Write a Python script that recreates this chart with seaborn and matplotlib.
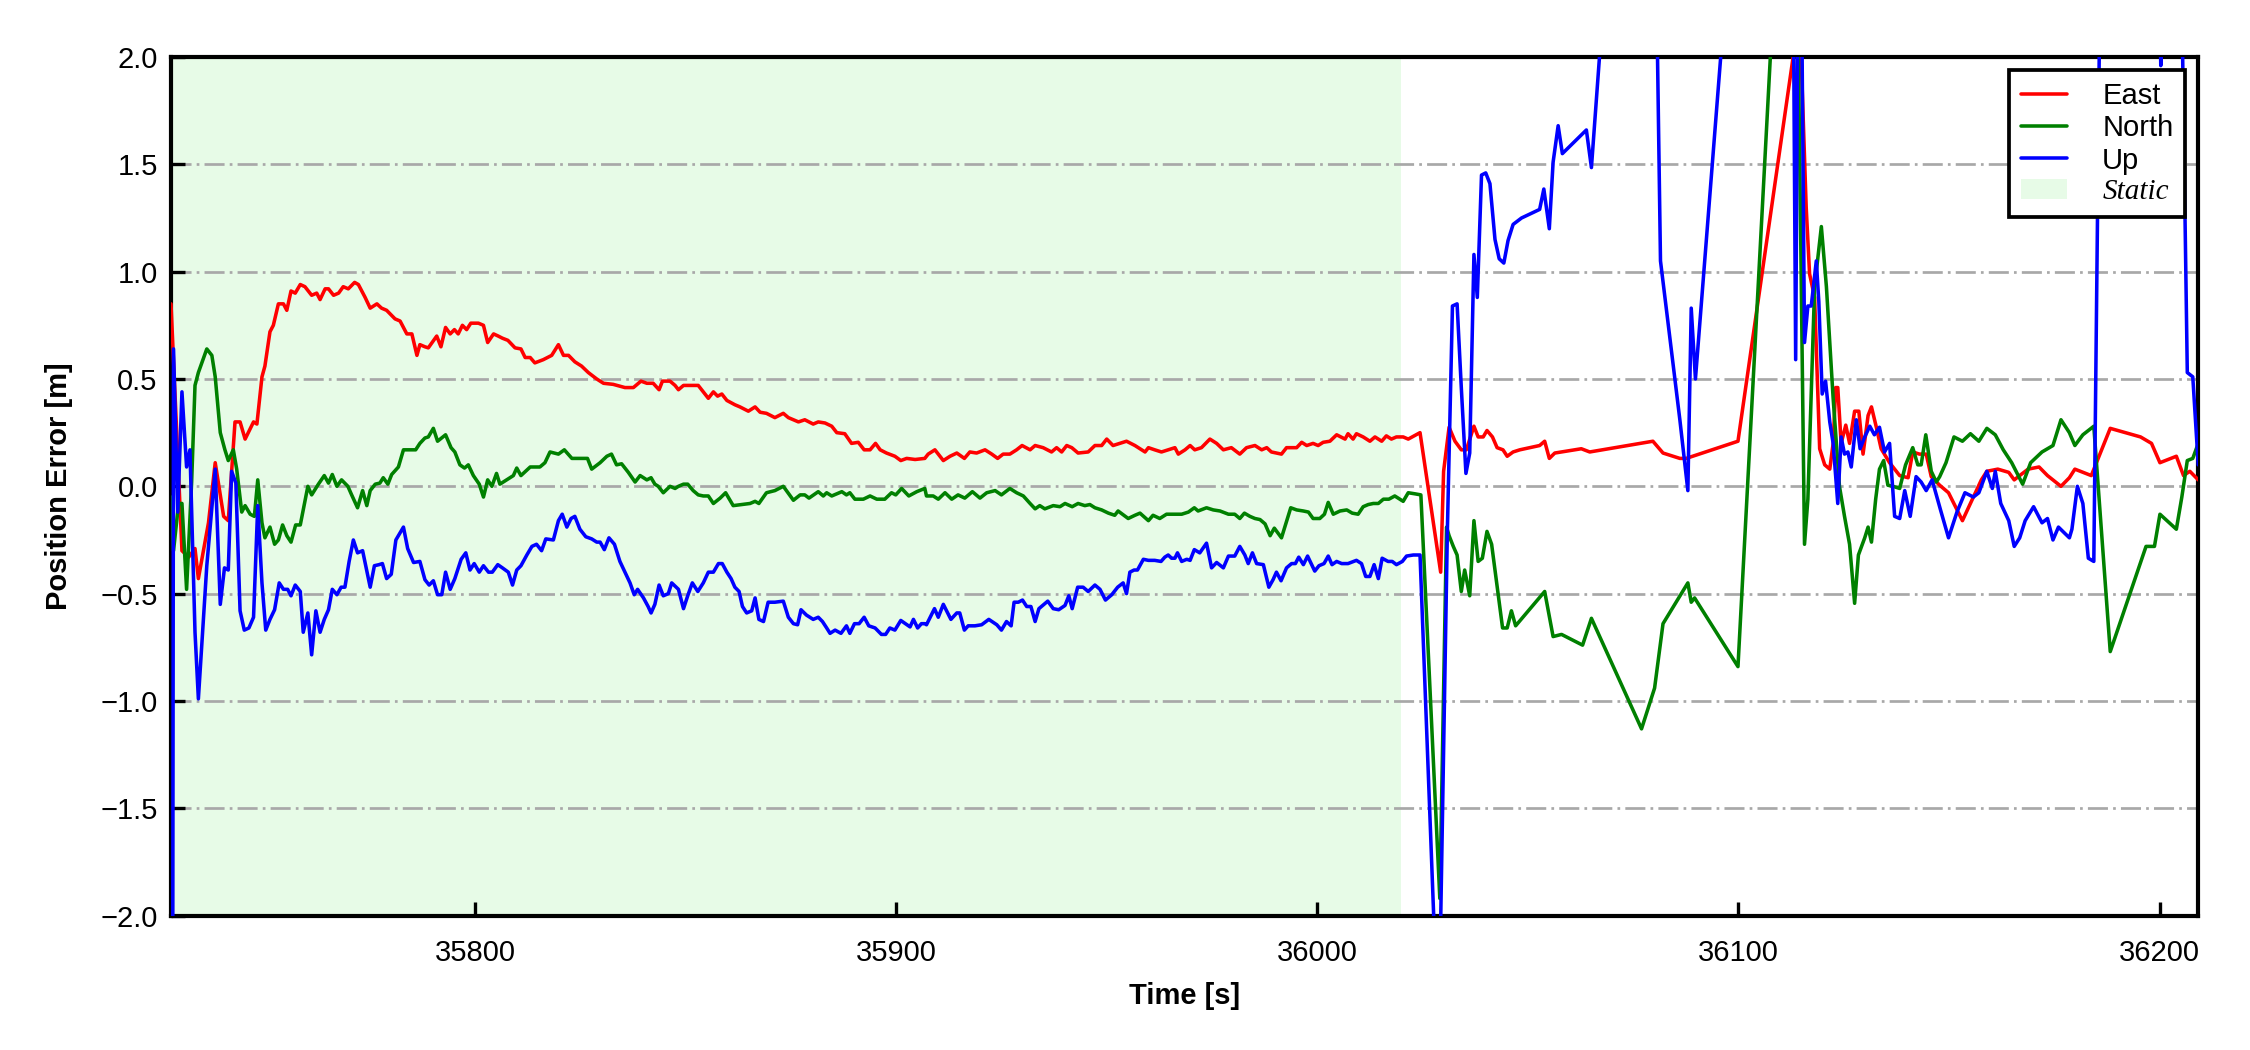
import numpy as np
import seaborn as sns
import matplotlib.pyplot as plt
from matplotlib.patches import Patch

# time window and static period [s]
x_min, x_max = 35727.8, 36209.2
static_end = 36020.0
y_ticks = [-2.0, -1.5, -1.0, -0.5, 0.0, 0.5, 1.0, 1.5, 2.0]

# East error [m]
t_east = [
    35727.8, 35730.4, 35732.0, 35733.5, 35734.3, 35736.7, 35738.3, 35740.3, 35741.4, 35743.0,
    35744.2, 35745.4, 35747.4, 35748.2, 35749.4, 35750.1, 35751.3, 35752.1, 35753.3, 35754.5,
    35755.3, 35756.3, 35757.3, 35758.5, 35759.6, 35761.2, 35762.4, 35763.2, 35764.4, 35765.2,
    35766.4, 35767.6, 35768.7, 35769.9, 35771.4, 35772.3, 35773.9, 35775.1, 35776.7, 35777.8,
    35779.0, 35781.0, 35782.2, 35783.8, 35785.0, 35786.2, 35786.9, 35788.1,
    35788.9, 35790.9, 35791.9, 35793.0, 35794.1, 35795.1, 35796.0, 35797.0, 35798.0, 35799.0,
    35800.8, 35802.0, 35803.0, 35804.4, 35805.5, 35806.5, 35807.8, 35809.5, 35810.9, 35811.9,
    35813.1, 35814.2, 35816.2, 35818.2, 35819.8, 35821.0, 35822.2, 35823.7, 35825.3, 35826.9,
    35828.9, 35830.5, 35832.8, 35835.6, 35837.6, 35839.4, 35840.8, 35842.3, 35843.7, 35844.5,
    35846.3, 35847.5,
    35848.3, 35849.5, 35851.4, 35853.0, 35854.2, 35855.4, 35856.6, 35857.6, 35858.6, 35859.8,
    35861.7, 35862.9, 35864.9, 35866.5, 35867.7, 35869.2, 35871.2, 35873.2, 35874.4, 35876.8,
    35878.3, 35880.3, 35881.5, 35883.1, 35884.7, 35885.9, 35887.8, 35889.4, 35891.0, 35892.4,
    35893.8, 35895.1, 35896.2, 35897.7, 35899.7, 35901.1, 35902.5, 35904.5, 35906.8,
    35907.6, 35909.2, 35911.2, 35912.8, 35914.4, 35916.2, 35917.5, 35919.1, 35921.1, 35922.7,
    35924.1, 35925.4, 35927.0, 35928.6, 35929.9, 35931.8, 35933.0, 35934.9, 35936.9, 35938.1,
    35939.3, 35940.5, 35941.7, 35943.2, 35945.6, 35947.2, 35948.8, 35950.0, 35951.5, 35953.1,
    35954.7, 35956.7, 35959.1, 35959.9, 35961.4, 35963.0, 35964.6, 35966.2,
    35967.0, 35968.6, 35969.8, 35970.9, 35972.5, 35974.5, 35976.1, 35977.7, 35979.6, 35981.6,
    35983.2, 35985.2, 35986.8, 35988.0, 35989.1, 35991.5, 35992.7, 35995.1, 35996.3, 35997.5,
    35999.0, 36000.2, 36001.4, 36003.0, 36004.6, 36006.6, 36007.3, 36008.5, 36009.3, 36010.9,
    36012.5, 36013.7, 36015.3, 36016.4, 36017.6, 36018.8, 36020.4, 36021.6, 36024.4,
    36029.3, 36030.0, 36031.3, 36032.7, 36034.2, 36035.4, 36037.2, 36038.2, 36039.4, 36040.3,
    36041.6, 36042.7, 36044.1, 36045.1, 36046.5, 36048.1, 36052.8, 36054.0, 36055.1, 36056.4,
    36062.7, 36064.7, 36079.7, 36082.1, 36086.1, 36087.6, 36099.9, 36113.0, 36114.0, 36114.9,
    36116.1, 36116.9, 36118.1, 36119.3, 36120.5, 36121.7, 36122.5, 36123.1, 36123.6, 36124.4,
    36125.5, 36126.4, 36127.6, 36128.6, 36129.6, 36130.8, 36131.6, 36132.7, 36133.9, 36135.9,
    36138.3, 36140.3, 36141.4, 36143.0, 36144.6, 36145.8, 36147.8,
    36149.9, 36153.2, 36155.1, 36157.7, 36159.0, 36161.6, 36164.2, 36165.5, 36166.8, 36168.8,
    36171.4, 36173.4, 36176.6, 36178.6, 36179.9, 36183.8, 36188.3, 36195.5, 36198.1, 36200.1,
    36204.0, 36205.7, 36207.2, 36209.2,
]
east = [
    0.85, -0.30, -0.33, -0.29, -0.43, -0.17, 0.11, -0.14, -0.16, 0.30,
    0.30, 0.22, 0.30, 0.29, 0.51, 0.56, 0.72, 0.75, 0.85, 0.85,
    0.82, 0.91, 0.90, 0.94, 0.93, 0.89, 0.90, 0.87, 0.92, 0.92,
    0.89, 0.90, 0.93, 0.92, 0.95, 0.94, 0.88, 0.83, 0.85, 0.83,
    0.82, 0.78, 0.77, 0.71, 0.71, 0.61, 0.66, 0.65,
    0.645, 0.70, 0.65, 0.74, 0.71, 0.73, 0.71, 0.75, 0.73, 0.76,
    0.76, 0.75, 0.67, 0.71, 0.70, 0.69, 0.68, 0.645, 0.64, 0.60,
    0.60, 0.575, 0.59, 0.61, 0.66, 0.61, 0.61, 0.58, 0.56, 0.53,
    0.50, 0.48, 0.475, 0.46, 0.46, 0.49, 0.48, 0.48, 0.45, 0.49,
    0.49, 0.47,
    0.45, 0.47, 0.47, 0.47, 0.44, 0.41, 0.44, 0.42, 0.43, 0.40,
    0.38, 0.37, 0.35, 0.37, 0.345, 0.34, 0.32, 0.34, 0.32, 0.30,
    0.31, 0.29, 0.30, 0.295, 0.28, 0.25, 0.245, 0.20, 0.205, 0.17,
    0.17, 0.20, 0.17, 0.155, 0.14, 0.12, 0.13, 0.125, 0.13,
    0.15, 0.17, 0.12, 0.14, 0.155, 0.13, 0.16, 0.155, 0.17, 0.15,
    0.13, 0.15, 0.15, 0.17, 0.19, 0.17, 0.19, 0.18, 0.16, 0.18,
    0.16, 0.19, 0.18, 0.155, 0.16, 0.19, 0.19, 0.22, 0.19, 0.20,
    0.21, 0.19, 0.16, 0.18, 0.17, 0.16, 0.17, 0.18,
    0.15, 0.17, 0.19, 0.17, 0.18, 0.22, 0.20, 0.17, 0.18, 0.15,
    0.18, 0.19, 0.17, 0.18, 0.16, 0.15, 0.18, 0.18, 0.205, 0.19,
    0.20, 0.19, 0.205, 0.21, 0.24, 0.22, 0.245, 0.22, 0.245, 0.23,
    0.21, 0.23, 0.21, 0.235, 0.22, 0.23, 0.23, 0.22, 0.25,
    -0.40, 0.07, 0.275, 0.21, 0.17, 0.17, 0.28, 0.23, 0.23, 0.26,
    0.23, 0.18, 0.17, 0.14, 0.16, 0.17, 0.19, 0.21, 0.13, 0.155,
    0.175, 0.16, 0.21, 0.155, 0.13, 0.13, 0.21, 2.0, 2.2, 2.0,
    1.30, 0.99, 0.88, 0.175, 0.10, 0.08, 0.20, 0.46, 0.46, 0.20,
    0.285, 0.20, 0.35, 0.35, 0.15, 0.33, 0.37, 0.28, 0.175, 0.11,
    0.05, 0.04, 0.16, 0.15, 0.15, 0.045, 0.005,
    -0.03, -0.16, -0.08, 0.03, 0.07, 0.08, 0.065, 0.03, 0.05, 0.08,
    0.09, 0.05, 0.00, 0.04, 0.08, 0.05, 0.27, 0.23, 0.20, 0.11,
    0.14, 0.05, 0.07, 0.03,
]

# North error [m]
t_north = [
    35727.8, 35728.4, 35729.6, 35730.4, 35731.5, 35732.7, 35733.5, 35734.3, 35736.3, 35737.5,
    35738.3, 35739.5, 35740.6, 35741.4, 35742.6, 35743.4, 35744.6, 35745.4, 35746.6, 35747.6,
    35748.4, 35749.4, 35750.1, 35751.3, 35752.4, 35753.3, 35754.3, 35755.3, 35756.3, 35757.4,
    35758.5, 35759.2, 35760.3, 35761.2, 35762.8, 35764.2, 35765.2, 35766.1, 35767.2, 35768.3,
    35769.8, 35770.7, 35772.1, 35773.3, 35774.3, 35775.1, 35776.3, 35777.4, 35778.2, 35779.3,
    35780.2, 35781.8, 35783.0, 35784.6, 35785.9, 35786.9, 35788.1,
    35788.9, 35790.1, 35791.1, 35793.0, 35794.3, 35795.2, 35796.4, 35797.5, 35798.4, 35799.6,
    35801.0, 35802.0, 35803.0, 35804.0, 35805.1, 35805.9, 35807.5, 35809.1, 35809.9, 35810.9,
    35813.1, 35815.4, 35816.6, 35817.8, 35819.8, 35821.2, 35823.0, 35824.5, 35826.7, 35827.7,
    35829.7, 35831.3, 35832.4, 35833.6, 35834.8, 35836.4, 35838.0, 35839.2, 35840.8, 35841.8,
    35842.7, 35843.5, 35844.7, 35846.3, 35847.5,
    35848.3, 35849.5, 35850.5, 35851.8, 35853.0, 35854.2, 35855.4, 35856.6, 35858.2, 35859.5,
    35861.3, 35863.3, 35865.3, 35866.5, 35867.4, 35869.2, 35871.2, 35873.2, 35875.6, 35877.2,
    35878.3, 35879.3, 35881.5, 35882.7, 35883.5, 35884.7, 35887.1, 35888.2, 35889.0, 35890.2,
    35892.2, 35893.8, 35895.4, 35897.3, 35898.9, 35899.9, 35901.3, 35903.0, 35904.9, 35906.8,
    35907.2, 35908.8, 35910.0, 35911.6, 35913.2, 35914.7, 35916.3, 35918.1, 35919.9, 35921.5,
    35923.5, 35925.0, 35927.0, 35928.6, 35930.2, 35931.8, 35933.0, 35934.1, 35935.3, 35937.3,
    35938.9, 35940.1, 35941.8, 35943.2, 35944.8, 35946.0, 35947.2, 35948.8, 35950.4, 35951.9,
    35952.7, 35955.1, 35956.7, 35957.9, 35959.9, 35961.0, 35962.6, 35964.2, 35966.2,
    35967.8, 35969.4, 35970.8, 35971.7, 35973.7, 35975.3, 35976.9, 35978.9, 35980.4, 35981.6,
    35982.7, 35984.0, 35985.2, 35986.4, 35987.6, 35988.8, 35989.8, 35991.5, 35993.7, 35995.1,
    35996.7, 35997.9, 35999.0, 36000.6, 36001.7, 36002.6, 36003.8, 36005.4, 36007.0, 36008.3,
    36009.7, 36010.9, 36012.1, 36013.3, 36014.5, 36015.7, 36017.0, 36018.4, 36019.2, 36020.4,
    36021.6, 36023.2, 36024.6,
    36029.1, 36030.7, 36031.3, 36032.3, 36033.2, 36034.2, 36035.0, 36036.2, 36037.2, 36038.2,
    36039.2, 36040.3, 36041.4, 36042.6, 36044.0, 36045.1, 36046.1, 36047.1, 36054.0, 36056.0,
    36058.0, 36063.0, 36065.1, 36077.0, 36080.1, 36082.1, 36088.0, 36088.8, 36089.6, 36099.9,
    36113.0, 36115.7, 36116.5, 36118.1, 36119.7, 36120.9, 36122.5, 36124.0, 36125.2, 36126.4,
    36127.6, 36128.5, 36130.0, 36130.8, 36131.6, 36132.6, 36133.5, 36134.5, 36135.5, 36136.7,
    36138.3, 36139.7, 36141.4, 36142.6, 36143.4, 36144.5, 36145.8, 36147.0, 36147.8,
    36149.3, 36151.2, 36153.2, 36155.1, 36157.1, 36159.0, 36161.0, 36162.9, 36164.9, 36167.5,
    36169.4, 36172.1, 36174.7, 36176.6, 36178.6, 36179.9, 36181.8, 36184.4, 36188.3, 36196.8,
    36198.8, 36200.1, 36204.0, 36205.3, 36206.6, 36207.9, 36209.2,
]
north = [
    -0.05, -0.30, -0.08, -0.08, -0.48, 0.02, 0.47, 0.53, 0.64, 0.61,
    0.51, 0.25, 0.17, 0.12, 0.17, 0.08, -0.12, -0.09, -0.13, -0.14,
    0.03, -0.17, -0.24, -0.19, -0.27, -0.25, -0.18, -0.23, -0.26, -0.18,
    -0.18, -0.11, 0.0, -0.04, 0.01, 0.05, 0.015, 0.055, 0.0, 0.03,
    0.0, -0.04, -0.10, -0.02, -0.09, -0.02, 0.01, 0.015, 0.04, 0.01,
    0.055, 0.09, 0.17, 0.17, 0.17, 0.20, 0.225,
    0.23, 0.27, 0.21, 0.24, 0.18, 0.16, 0.10, 0.085, 0.10, 0.05,
    0.01, -0.05, 0.03, 0.0, 0.06, 0.01, 0.03, 0.05, 0.085, 0.05,
    0.09, 0.09, 0.11, 0.16, 0.15, 0.17, 0.13, 0.13, 0.13, 0.08,
    0.11, 0.14, 0.15, 0.10, 0.105, 0.065, 0.02, 0.05, 0.03, 0.04,
    0.01, 0.0, -0.03, 0.0, -0.01,
    0.0, 0.01, 0.01, -0.02, -0.04, -0.045, -0.045, -0.08, -0.055, -0.03,
    -0.09, -0.085, -0.08, -0.07, -0.08, -0.03, -0.02, 0.0, -0.065, -0.04,
    -0.04, -0.055, -0.025, -0.045, -0.03, -0.045, -0.025, -0.04, -0.03, -0.06,
    -0.06, -0.045, -0.06, -0.06, -0.03, -0.04, -0.01, -0.045, -0.025, -0.01,
    -0.045, -0.045, -0.06, -0.03, -0.06, -0.04, -0.055, -0.025, -0.055, -0.03,
    -0.02, -0.04, -0.01, -0.03, -0.045, -0.08, -0.105, -0.09, -0.105, -0.09,
    -0.095, -0.08, -0.095, -0.08, -0.09, -0.085, -0.10, -0.11, -0.125, -0.135,
    -0.115, -0.15, -0.135, -0.125, -0.16, -0.135, -0.15, -0.13, -0.13,
    -0.13, -0.12, -0.10, -0.115, -0.10, -0.11, -0.115, -0.13, -0.13, -0.15,
    -0.125, -0.14, -0.15, -0.155, -0.175, -0.23, -0.195, -0.24, -0.10, -0.11,
    -0.115, -0.12, -0.15, -0.15, -0.13, -0.075, -0.13, -0.115, -0.11, -0.125,
    -0.13, -0.095, -0.085, -0.08, -0.08, -0.06, -0.06, -0.045, -0.055, -0.07,
    -0.03, -0.035, -0.04,
    -1.92, -0.19, -0.23, -0.28, -0.32, -0.49, -0.39, -0.51, -0.16, -0.35,
    -0.335, -0.21, -0.27, -0.45, -0.66, -0.66, -0.58, -0.65, -0.49, -0.70,
    -0.69, -0.74, -0.615, -1.13, -0.94, -0.64, -0.45, -0.54, -0.52, -0.84,
    4.0, -0.27, -0.06, 0.93, 1.21, 0.93, 0.41, 0.0, -0.14, -0.27,
    -0.545, -0.32, -0.24, -0.19, -0.26, -0.06, 0.08, 0.12, 0.005, 0.0,
    -0.01, 0.10, 0.18, 0.10, 0.10, 0.24, 0.07, 0.02, 0.045,
    0.11, 0.23, 0.21, 0.245, 0.21, 0.27, 0.24, 0.17, 0.11, 0.01,
    0.11, 0.16, 0.19, 0.31, 0.25, 0.19, 0.24, 0.28, -0.77, -0.28,
    -0.28, -0.13, -0.20, -0.05, 0.12, 0.13, 0.20,
]

# Up error [m]
t_up = [
    35728.2, 35728.4, 35729.4, 35730.4, 35731.5, 35732.3, 35733.5, 35734.3, 35736.3, 35738.3,
    35739.5, 35740.5, 35741.4, 35742.2, 35743.2, 35744.2, 35745.2, 35746.3, 35747.4, 35748.4,
    35749.4, 35750.3, 35751.3, 35752.4, 35753.5, 35754.5, 35755.5, 35756.3, 35757.3, 35758.5,
    35759.2, 35760.3, 35761.2, 35762.2, 35763.2, 35764.2, 35765.2, 35766.1, 35767.2, 35768.2,
    35769.1, 35770.1, 35771.1, 35772.1, 35773.3, 35775.1, 35776.1, 35777.2, 35778.0, 35779.0,
    35780.1, 35781.2, 35783.0, 35784.0, 35785.4, 35786.9, 35788.1,
    35789.1, 35790.1, 35791.1, 35792.1, 35793.0, 35794.1, 35795.2, 35796.7, 35797.8, 35798.8,
    35799.8, 35801.0, 35802.0, 35803.2, 35804.1, 35805.4, 35806.5, 35807.9, 35808.9, 35809.9,
    35810.9, 35812.3, 35813.5, 35814.6, 35815.8, 35816.8, 35818.6, 35819.8, 35820.7, 35821.8,
    35822.8, 35823.7, 35824.9, 35826.3, 35827.7, 35828.9, 35829.7, 35830.7, 35831.8, 35833.1,
    35834.4, 35835.6, 35836.8, 35837.8, 35838.6, 35840.0, 35841.1, 35841.8, 35842.7, 35843.7,
    35844.7, 35845.9, 35846.7, 35847.5,
    35848.3, 35849.5, 35850.5, 35851.6, 35852.9, 35854.2, 35855.4, 35856.6, 35857.8, 35858.7,
    35859.8, 35860.8, 35861.7, 35862.7, 35863.5, 35864.5, 35865.7, 35866.5, 35867.4, 35868.5,
    35869.6, 35871.2, 35873.2, 35874.4, 35875.6, 35876.6, 35877.4, 35878.7, 35880.3, 35881.5,
    35882.5, 35883.5, 35884.3, 35885.5, 35886.9, 35888.2, 35889.0, 35890.1, 35891.2, 35892.4,
    35893.5, 35895.0, 35896.5, 35897.5, 35898.5, 35899.7, 35901.1, 35902.2, 35903.3, 35904.1,
    35905.1, 35906.0, 35906.8,
    35907.2, 35909.1, 35910.0, 35911.2, 35913.0, 35914.4, 35915.1, 35916.2, 35917.1, 35918.7,
    35920.3, 35922.0, 35923.9, 35925.0, 35926.2, 35927.3, 35928.0, 35929.0, 35930.0, 35931.0,
    35932.0, 35933.0, 35933.9, 35936.0, 35937.3, 35938.6, 35940.1, 35941.0, 35941.8, 35943.1,
    35944.4, 35945.6, 35947.2, 35948.4, 35949.7, 35951.2, 35952.6, 35953.9, 35954.7, 35955.5,
    35956.5, 35957.3, 35958.7, 35959.9, 35961.4, 35962.9, 35963.8, 35964.6, 35965.4, 35966.2,
    35966.8, 35967.8, 35969.0, 35969.8, 35970.8, 35972.1, 35973.7, 35974.9, 35976.1, 35977.7,
    35978.9, 35980.4, 35981.6, 35982.8, 35983.6, 35984.6, 35985.6, 35987.2, 35988.5, 35989.5,
    35990.3, 35991.4, 35992.7, 35993.9, 35994.8, 35995.6, 35996.7, 35997.7, 35999.4, 36000.4,
    36001.6, 36002.6, 36003.5, 36004.6, 36005.8, 36007.3, 36009.3, 36010.5, 36011.5, 36012.5,
    36013.5, 36014.5, 36015.4, 36016.8, 36017.8, 36018.8, 36020.2, 36021.2, 36022.8, 36024.4,
    36028.8, 36030.9, 36032.1, 36033.2, 36034.2, 36035.3, 36036.2, 36037.2, 36038.0, 36039.0,
    36040.0, 36041.0, 36042.2, 36043.2, 36044.3, 36045.3, 36046.5, 36048.5, 36052.8, 36053.8,
    36055.1, 36056.0, 36057.2, 36058.2, 36063.9, 36065.1, 36068.5, 36074.0, 36080.5, 36081.5,
    36086.1, 36088.0, 36088.8, 36089.8, 36097.0, 36105.0, 36112.5, 36113.6, 36114.5, 36115.7,
    36116.5, 36117.3, 36118.5, 36119.1, 36119.9, 36120.7, 36121.7, 36122.5, 36123.6, 36124.4,
    36125.2, 36126.0, 36126.8, 36128.0, 36128.9, 36130.0, 36131.2, 36132.3, 36133.5, 36134.7,
    36135.9, 36137.1, 36138.3, 36139.5, 36140.8, 36142.2, 36143.4, 36144.6,
    36146.0, 36148.0, 36149.9, 36151.9, 36153.8, 36155.8, 36157.1, 36159.0, 36160.3, 36161.0,
    36162.3, 36164.2, 36165.5, 36166.8, 36168.1, 36170.1, 36172.1, 36173.4, 36174.7, 36176.0,
    36178.6, 36179.2, 36180.5, 36181.8, 36183.1, 36184.4, 36186.5, 36199.5, 36200.3, 36201.5,
    36204.0, 36206.6, 36207.9, 36209.2,
]
up = [
    -2.5, 0.64, -0.12, 0.44, 0.09, 0.17, -0.68, -0.99, -0.37, 0.08,
    -0.55, -0.38, -0.39, 0.07, 0.015, -0.58, -0.67, -0.66, -0.61, -0.09,
    -0.45, -0.67, -0.62, -0.575, -0.45, -0.48, -0.48, -0.51, -0.46, -0.49,
    -0.68, -0.59, -0.785, -0.58, -0.68, -0.62, -0.575, -0.48, -0.505, -0.47,
    -0.47, -0.35, -0.25, -0.31, -0.30, -0.47, -0.37, -0.365, -0.36, -0.43,
    -0.41, -0.25, -0.19, -0.29, -0.355, -0.35, -0.435,
    -0.46, -0.44, -0.505, -0.505, -0.40, -0.48, -0.43, -0.34, -0.31, -0.39,
    -0.36, -0.40, -0.37, -0.40, -0.40, -0.365, -0.38, -0.40, -0.46, -0.39,
    -0.37, -0.32, -0.28, -0.27, -0.30, -0.245, -0.25, -0.16, -0.13, -0.19,
    -0.15, -0.14, -0.20, -0.235, -0.245, -0.26, -0.26, -0.295, -0.24, -0.27,
    -0.35, -0.40, -0.45, -0.505, -0.48, -0.52, -0.56, -0.59, -0.55, -0.46,
    -0.51, -0.50, -0.45, -0.465,
    -0.48, -0.57, -0.51, -0.45, -0.49, -0.45, -0.40, -0.40, -0.36, -0.36,
    -0.40, -0.43, -0.47, -0.49, -0.56, -0.59, -0.58, -0.52, -0.62, -0.63,
    -0.54, -0.54, -0.535, -0.61, -0.64, -0.645, -0.575, -0.60, -0.62, -0.61,
    -0.63, -0.66, -0.685, -0.67, -0.685, -0.65, -0.685, -0.64, -0.64, -0.61,
    -0.65, -0.66, -0.69, -0.69, -0.66, -0.67, -0.625, -0.64, -0.655, -0.62,
    -0.66, -0.64, -0.64,
    -0.645, -0.57, -0.61, -0.55, -0.62, -0.59, -0.59, -0.67, -0.65, -0.65,
    -0.645, -0.62, -0.645, -0.67, -0.63, -0.65, -0.54, -0.54, -0.53, -0.56,
    -0.56, -0.63, -0.57, -0.535, -0.57, -0.575, -0.555, -0.51, -0.57, -0.47,
    -0.47, -0.49, -0.46, -0.48, -0.53, -0.505, -0.47, -0.45, -0.50, -0.40,
    -0.39, -0.39, -0.34, -0.345, -0.345, -0.35, -0.33, -0.32, -0.335, -0.335,
    -0.31, -0.35, -0.34, -0.345, -0.295, -0.31, -0.265, -0.38, -0.355, -0.38,
    -0.325, -0.325, -0.28, -0.32, -0.36, -0.31, -0.36, -0.365, -0.47, -0.435,
    -0.40, -0.44, -0.38, -0.36, -0.36, -0.33, -0.365, -0.325, -0.395, -0.37,
    -0.36, -0.325, -0.365, -0.35, -0.36, -0.36, -0.345, -0.36, -0.42, -0.42,
    -0.365, -0.43, -0.335, -0.35, -0.35, -0.365, -0.35, -0.325, -0.32, -0.32,
    -2.6, -0.2, 0.84, 0.85, 0.46, 0.06, 0.155, 1.08, 0.88, 1.45,
    1.46, 1.41, 1.15, 1.06, 1.04, 1.145, 1.22, 1.25, 1.29, 1.385,
    1.20, 1.51, 1.68, 1.55, 1.66, 1.485, 2.4, 2.8, 2.4, 1.05,
    0.31, -0.02, 0.83, 0.50, 2.3, 3.0, 4.0, 0.59, 3.5, 0.67,
    0.84, 0.84, 1.05, 0.86, 0.43, 0.49, 0.30, 0.20, -0.08, 0.23,
    0.15, 0.16, 0.09, 0.31, 0.175, 0.23, 0.28, 0.24, 0.275, 0.16,
    0.20, -0.14, -0.15, -0.02, -0.14, 0.045, 0.02, -0.02,
    0.03, -0.11, -0.24, -0.12, -0.03, -0.05, -0.03, 0.07, -0.01, 0.07,
    -0.08, -0.16, -0.28, -0.24, -0.16, -0.095, -0.17, -0.15, -0.25, -0.19,
    -0.24, -0.20, 0.0, -0.08, -0.335, -0.35, 3.5, 3.0, 1.96, 3.0,
    4.0, 0.53, 0.51, 0.10,
]

sns.set_style('ticks')
plt.rcParams['font.family'] = ['Liberation Sans', 'DejaVu Sans']
plt.rcParams['text.color'] = 'black'
plt.rcParams['axes.labelcolor'] = 'black'

static_color = '#e7fbe7'

fig = plt.figure(figsize=(7.5, 3.5), dpi=300)
ax = fig.add_axes([0.076, 0.128, 0.901, 0.8177])

ax.axvspan(x_min, static_end, color=static_color, lw=0, zorder=0)
ax.grid(axis='y', color='#a8a8a8', lw=0.65, linestyle=(0, (7.4, 1.9, 1.0, 1.9)), zorder=1)

sns.lineplot(x=t_east, y=east, color='red', lw=0.85, label='East',
             estimator=None, sort=False, ax=ax, zorder=3)
sns.lineplot(x=t_north, y=north, color='green', lw=0.85, label='North',
             estimator=None, sort=False, ax=ax, zorder=3)
sns.lineplot(x=t_up, y=up, color='blue', lw=0.85, label='Up',
             estimator=None, sort=False, ax=ax, zorder=3)

ax.set_xlim(x_min, x_max)
ax.set_ylim(-2.0, 2.0)
ax.set_yticks(y_ticks)
ax.set_xticks([35800, 35900, 36000, 36100, 36200])
ax.ticklabel_format(axis='x', useOffset=False, style='plain')
ax.tick_params(direction='in', length=3.4, width=0.8, labelsize=7,
               top=False, right=False, colors='black')
ax.tick_params(axis='x', pad=5.6)
ax.tick_params(axis='y', pad=3.2)
for s in ax.spines.values():
    s.set_linewidth(1.0)
    s.set_color('black')

ax.set_xlabel('Time [s]', fontsize=7, fontweight='bold', labelpad=3.5)
ax.set_ylabel('Position Error [m]', fontsize=7, fontweight='bold', labelpad=6.5)

handles, labels = ax.get_legend_handles_labels()
handles.append(Patch(facecolor=static_color, edgecolor='none'))
labels.append('Static')
leg = ax.legend(handles, labels, loc='upper right', fontsize=7, frameon=True,
                fancybox=False, framealpha=1, edgecolor='black',
                handlelength=1.6, handletextpad=1.2, labelspacing=0.15,
                borderaxespad=0.45, borderpad=0.4)
leg.get_frame().set_linewidth(0.9)
leg.get_texts()[3].set_fontfamily(['Liberation Serif', 'DejaVu Serif'])
leg.get_texts()[3].set_fontstyle('italic')

fig.savefig('out.png', dpi=300)
